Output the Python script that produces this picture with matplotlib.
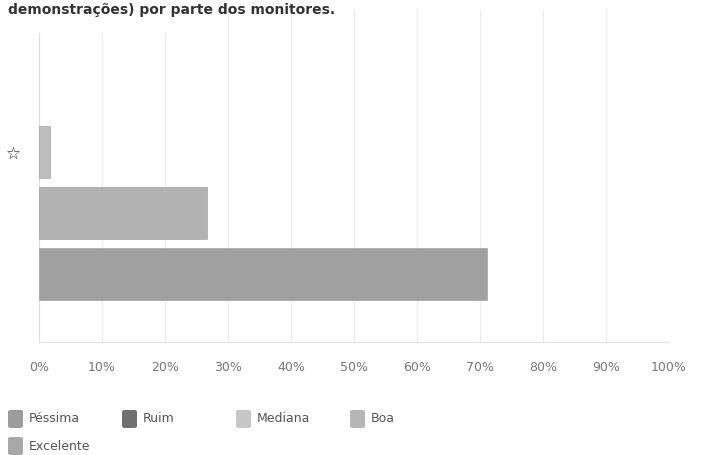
import matplotlib.pyplot as plt
from matplotlib.patches import FancyBboxPatch, Rectangle
import numpy as np

# dados
series = ['Péssima', 'Ruim', 'Mediana', 'Boa', 'Excelente']
valores = [0, 0, 1.7, 26.7, 71.1]
cores_legenda = ['#9c9c9c', '#707070', '#c6c6c6', '#b6b6b6', '#a8a8a8']
cores_barra = ['#9c9c9c', '#707070', '#bdbdbd', '#b3b3b3', '#a0a0a0']
ticks = np.arange(0, 101, 10)
tick_labels = [f'{t}%' for t in ticks]

W, H = 714, 455
fig = plt.figure(figsize=(W / 100, H / 100), dpi=100)
ax = fig.add_axes([39 / W, (H - 342) / H, (669 - 39) / W, (342 - 10) / H])

# so desenha as barras com valor > 0
pos = 0
for nome, v, c in zip(series, valores, cores_barra):
    if v <= 0:
        continue
    ax.barh(pos, v, height=0.86, color=c, edgecolor='#999999', linewidth=0.4, zorder=3)
    pos += 1

ax.set_xlim(0, 100)
ax.set_ylim(2 + (342 - 274) / 61, 0 - (152 - 10) / 61)
ax.set_xticks(ticks)
ax.set_xticklabels(tick_labels, color='#777777', fontsize=9)
ax.tick_params(axis='x', length=0, pad=14)
ax.set_yticks([0])
ax.set_yticklabels(['☆'], fontsize=12, color='#222222')
ax.tick_params(axis='y', length=0, pad=13)
ax.grid(axis='x', color='#ebebeb', linewidth=0.9, zorder=0)
for s in ['top', 'right']:
    ax.spines[s].set_visible(False)
ax.spines['bottom'].set_color('#e3e3e3')
ax.spines['left'].set_color('#dddddd')

# caixa branca do titulo
fig.patches.append(Rectangle((0, (H - 33) / H), 215 / W, 33 / H, transform=fig.transFigure,
                             facecolor='white', edgecolor='none', zorder=5))
fig.text(8 / W, (H - 14) / H, 'demonstrações) por parte dos monitores.', fontsize=10,
         fontweight='bold', color='#333333', va='baseline', ha='left', zorder=6)

# legenda manual
for i, (nome, c) in enumerate(zip(series, cores_legenda)):
    col, lin = i % 4, i // 4
    x0 = 8 + col * 114
    yc = 419 + lin * 27
    fig.patches.append(FancyBboxPatch(((x0) / W, (H - yc - 9) / H), 15 / W, 18 / H,
                                      boxstyle='round,pad=0,rounding_size=0.004',
                                      transform=fig.transFigure, facecolor=c, edgecolor='none'))
    fig.text((x0 + 21) / W, (H - yc) / H, nome, fontsize=9, color='#555555', va='center', ha='left')

plt.savefig('out.png', dpi=100)
